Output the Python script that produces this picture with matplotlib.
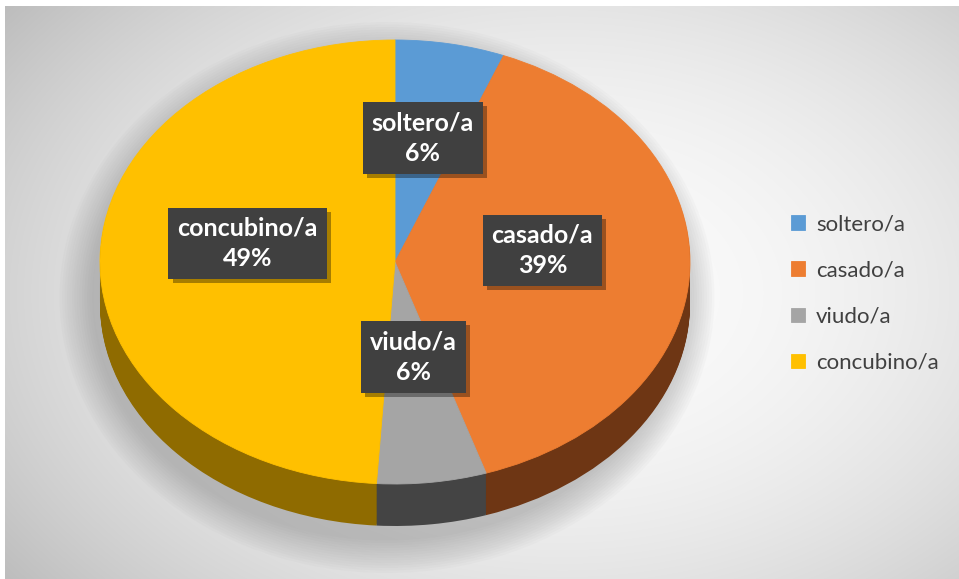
import numpy as np
import matplotlib
matplotlib.use("Agg")
import matplotlib.pyplot as plt
from matplotlib.transforms import Affine2D
from matplotlib.patches import Ellipse
import matplotlib.patheffects as pe

# ---- data ----
categories = ["soltero/a", "casado/a", "viudo/a", "concubino/a"]
values = [6, 39, 6, 49]
top_colors = ["#5b9bd5", "#ed7d31", "#a5a5a5", "#ffc000"]
side_colors = ["#2f5f8a", "#6e3614", "#444444", "#8f6b00"]

W, H = 959, 579
fig = plt.figure(figsize=(W / 100, H / 100), dpi=100, facecolor="white")
ax = fig.add_axes([0, 0, 1, 1])

# background radial gradient
yy, xx = np.mgrid[0:H, 0:W]
d2 = ((xx - 560) / 540.0) ** 2 + ((yy - 290) / 370.0) ** 2
bg = np.clip(0.985 - 0.145 * d2, 0.74, 1.0)
ax.imshow(np.dstack([bg, bg, bg]), extent=(5, W, 0, H - 6), origin="upper",
          zorder=0, aspect="auto")

cx, cy_img = 395, 262
cy = H - cy_img
rx, ry = 295, 222
s = ry / rx
depth = 42

# soft shadow beneath pie
for i in range(14):
    grow = i * 5
    ax.add_patch(Ellipse((cx - 8, cy - depth * 0.75 - 4), 2 * rx + grow,
                         2 * ry + depth + grow, facecolor="#808080",
                         edgecolor="none", alpha=0.035, zorder=1))

def squash(dy):
    return (Affine2D().translate(-cx, -cy).scale(1, s)
            .translate(cx, cy - dy) + ax.transData)

# side (stacked layers)
for d in np.linspace(depth, 1, 40):
    wedges, _ = ax.pie(values, colors=side_colors, startangle=90,
                       counterclock=False, center=(cx, cy), radius=rx,
                       wedgeprops=dict(linewidth=0))
    for w in wedges:
        w.set_transform(squash(d))
        w.set_zorder(2)

# top face
wedges, _ = ax.pie(values, colors=top_colors, startangle=90,
                   counterclock=False, center=(cx, cy), radius=rx,
                   wedgeprops=dict(linewidth=0.6, edgecolor="none"))
for w, c in zip(wedges, top_colors):
    w.set_transform(squash(0))
    w.set_edgecolor(c)
    w.set_zorder(3)

ax.set_xlim(0, W)
ax.set_ylim(0, H)
ax.set_aspect("auto")
ax.axis("off")

# data labels
total = sum(values)
cum = 0
for cat, v in zip(categories, values):
    mid = cum + v / 2.0
    cum += v
    theta = np.deg2rad(90 - 360.0 * mid / total)
    lx = cx + 0.5 * rx * np.cos(theta)
    ly = cy + 0.5 * ry * np.sin(theta) + 15
    pct = round(100.0 * v / total)
    t = ax.text(lx, ly, f"{cat}\n{pct}%", ha="center", va="center",
                multialignment="center", color="white", fontsize=18,
                fontweight="bold", family=["Lato", "DejaVu Sans"],
                linespacing=1.4, zorder=6,
                bbox=dict(boxstyle="square,pad=0.36", facecolor="#404040",
                          edgecolor="none"))
    t.get_bbox_patch().set_path_effects(
        [pe.SimplePatchShadow(offset=(3, -3), shadow_rgbFace="black", alpha=0.35),
         pe.Normal()])

# legend
leg = ax.legend(wedges, categories, loc="center left",
                bbox_to_anchor=(791 / W, 1 - 293.5 / H),
                bbox_transform=fig.transFigure, frameon=False,
                prop=dict(family=["Lato", "DejaVu Sans"], size=16),
                labelcolor="#404040", handlelength=0.62, handleheight=0.62,
                handletextpad=0.5, labelspacing=1.18, borderpad=0,
                borderaxespad=0)
leg.set_zorder(7)

fig.savefig("out.png", dpi=100, facecolor="white")
